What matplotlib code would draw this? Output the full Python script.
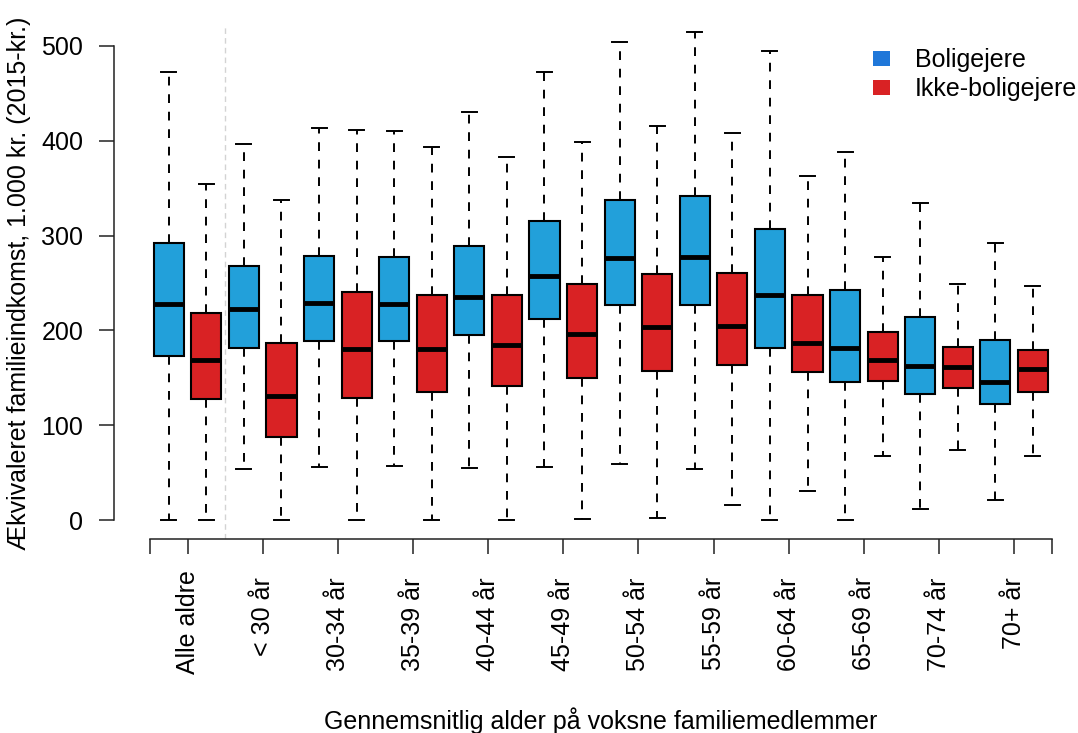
import matplotlib
matplotlib.use("Agg")
import matplotlib.pyplot as plt
from matplotlib.patches import Patch

plt.rcParams['font.family'] = ['Liberation Sans', 'DejaVu Sans']

groups = ['Alle aldre', '< 30 år', '30-34 år', '35-39 år', '40-44 år', '45-49 år',
          '50-54 år', '55-59 år', '60-64 år', '65-69 år', '70-74 år', '70+ år']

blue_low = [0, 53.4, 55.6, 57.3, 55.2, 55.9, 59.0, 53.5, 0, 0, 12.0, 21.1]
blue_q1 = [172.6, 181.2, 189.2, 189.2, 195.5, 212.0, 226.5, 226.5, 181.8, 145.6, 132.5, 122.0]
blue_med = [227.4, 223.0, 228.6, 227.8, 234.9, 257.4, 276.4, 277.8, 237.3, 181.1, 162.4, 145.2]
blue_q3 = [292.0, 267.7, 278.8, 277.0, 289.4, 315.4, 337.6, 342.1, 307.0, 242.3, 213.8, 189.9]
blue_high = [472.6, 396.6, 413.8, 410.3, 430.7, 472.2, 504.2, 514.8, 494.7, 388.2, 334.7, 291.8]

red_low = [0, 0, 0, 0, 0, 1.0, 1.8, 16.2, 31.0, 67.5, 74.2, 67.5]
red_q1 = [127.8, 87.2, 128.7, 134.7, 141.4, 150.1, 157.5, 163.9, 155.8, 146.3, 139.6, 135.0]
red_med = [169.0, 130.5, 180.4, 180.4, 185.0, 195.9, 203.6, 205.0, 187.0, 168.4, 161.7, 159.6]
red_q3 = [218.4, 186.8, 240.8, 237.3, 237.3, 248.9, 259.8, 260.9, 237.7, 198.3, 182.8, 179.3]
red_high = [354.0, 337.2, 411.7, 393.8, 382.9, 398.7, 415.6, 408.2, 362.9, 277.1, 249.0, 246.8]

series_names = ['Boligejere', 'Ikke-boligejere']
box_colors = ['#22A0DA', '#D92224']
legend_colors = ['#1F77D9', '#D92224']

FS = 18
W, H = 1078, 733
fig = plt.figure(figsize=(W / 100, H / 100), dpi=100)
ax_left, ax_right, ax_top, ax_bottom = 113.9, 1087.8, 27, 539
ax = fig.add_axes([ax_left / W, 1 - ax_bottom / H, (ax_right - ax_left) / W, (ax_bottom - ax_top) / H])

stats, positions, colors = [], [], []
for g in range(len(groups)):
    for s, (lo, q1, med, q3, hi) in enumerate([
            (blue_low, blue_q1, blue_med, blue_q3, blue_high),
            (red_low, red_q1, red_med, red_q3, red_high)]):
        stats.append(dict(whislo=lo[g], q1=q1[g], med=med[g], q3=q3[g], whishi=hi[g], fliers=[]))
        positions.append(2 * g + 1 + s)
        colors.append(box_colors[s])

bp = ax.bxp(stats, positions=positions, widths=0.8, capwidths=0.4, patch_artist=True,
            showfliers=False,
            boxprops=dict(edgecolor='black', linewidth=1.5),
            whiskerprops=dict(color='black', linewidth=1.4, linestyle=(0, (4.5, 4.5))),
            capprops=dict(color='black', linewidth=1.4),
            medianprops=dict(color='black', linewidth=3.5, solid_capstyle='butt'))
for patch, c in zip(bp['boxes'], colors):
    patch.set_facecolor(c)

ax.axvline(2.5, color='#D3D3D3', linewidth=1.0, linestyle=(0, (4, 3)), zorder=0)

ax.set_xlim(-0.46, 25.46)
ax.set_ylim(-20, 520)

for sp in ['top', 'right']:
    ax.spines[sp].set_visible(False)
ax.spines['left'].set_bounds(0, 500)
ax.spines['bottom'].set_bounds(0.5, 24.5)
for sp in ['left', 'bottom']:
    ax.spines[sp].set_linewidth(1.1)
    ax.spines[sp].set_color('#222222')

ax.set_yticks([0, 100, 200, 300, 400, 500])
ax.set_yticklabels(['0', '100', '200', '300', '400', '500'])
xt = [0.5] + [2 * g + 1.5 for g in range(len(groups))] + [24.5]
xl = [''] + [lab if g == 0 else lab + ' ' for g, lab in enumerate(groups)] + ['']
ax.set_xticks(xt)
ax.set_xticklabels(xl, rotation=90, ha='center', va='top')
ax.tick_params(axis='both', length=10.5, width=1.1, color='#222222', labelsize=FS, labelcolor='black')
ax.tick_params(axis='y', pad=11.5)
ax.tick_params(axis='x', pad=12)

ax.set_ylabel('Ækvivaleret familieindkomst, 1.000 kr. (2015-kr.)', fontsize=FS)
ax.set_xlabel('Gennemsnitlig alder på voksne familiemedlemmer', fontsize=FS)
ax.yaxis.set_label_coords((31 - ax_left) / (ax_right - ax_left), 0.5)
ax.xaxis.set_label_coords(0.5, (ax_bottom - 707) / (ax_bottom - ax_top))

handles = [Patch(facecolor=c, edgecolor='none') for c in legend_colors]
fig.legend(handles, series_names, loc='upper left', bbox_to_anchor=(873 / W, 1 - 48 / H),
           bbox_transform=fig.transFigure, frameon=False, fontsize=FS, borderpad=0,
           borderaxespad=0, handlelength=0.68, handleheight=0.56, handletextpad=1.0,
           labelspacing=0.21)

fig.savefig('out.png', dpi=100)
